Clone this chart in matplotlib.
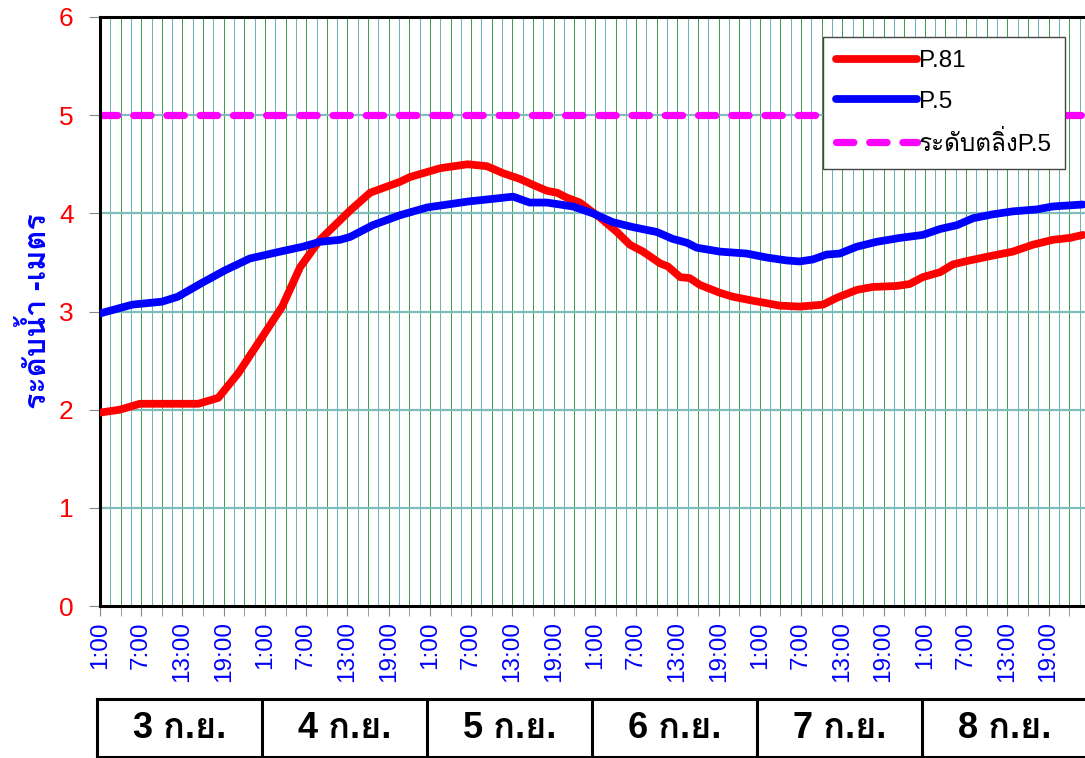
import numpy as np
import matplotlib
matplotlib.use('Agg')
import matplotlib.pyplot as plt
from matplotlib import font_manager
from fontTools.ttLib import TTFont

# ข้อมูล (ชั่วโมงนับจาก 1:00 วันที่ 3 ก.ย.)
p81_hours = [0, 2.9, 5.8, 14.3, 17.2, 20.1, 23.6, 26.5, 29.1, 32.0, 36.4, 39.3, 43.6, 45.1,
             49.5, 53.5, 56.3, 58.6, 61.1, 63.0, 65.0, 66.5, 67.9, 69.8, 71.7, 72.7, 75.2,
             77.1, 79.0, 81.5, 82.6, 84.4, 85.8, 87.3, 90.2, 92.1, 95.0, 98.9, 101.8, 105.2,
             107.2, 110.1, 112.4, 115.9, 117.8, 119.7, 122.2, 124.1, 126.5, 129.9, 132.8,
             135.7, 138.6, 141.1, 143.0]
p81_level = [1.97, 2.00, 2.06, 2.06, 2.12, 2.37, 2.74, 3.05, 3.45, 3.73, 4.03, 4.21, 4.32, 4.37,
             4.46, 4.50, 4.48, 4.41, 4.35, 4.29, 4.23, 4.21, 4.16, 4.11, 4.01, 3.96, 3.81,
             3.68, 3.61, 3.49, 3.46, 3.35, 3.34, 3.27, 3.19, 3.15, 3.11, 3.06, 3.05, 3.07,
             3.14, 3.22, 3.25, 3.26, 3.28, 3.35, 3.40, 3.48, 3.52, 3.57, 3.61,
             3.68, 3.73, 3.75, 3.78]

p5_hours = [0, 4.7, 9.0, 11.3, 14.8, 18.2, 21.8, 26.2, 29.5, 32.0, 34.9, 36.4, 39.7, 43.6,
            47.6, 53.5, 60.1, 62.5, 65.0, 68.8, 71.7, 74.6, 77.5, 81.0, 83.3, 85.4, 86.8,
            90.2, 94.1, 97.0, 99.9, 101.8, 103.7, 105.7, 107.6, 110.1, 113.0, 116.4, 119.7,
            122.2, 124.7, 127.0, 129.9, 132.8, 136.3, 138.6, 143.0]
p5_level = [2.98, 3.07, 3.10, 3.15, 3.29, 3.42, 3.54, 3.61, 3.66, 3.71, 3.73, 3.76, 3.88, 3.98,
            4.06, 4.12, 4.17, 4.11, 4.11, 4.07, 4.00, 3.91, 3.86, 3.81, 3.74, 3.70, 3.65,
            3.61, 3.59, 3.55, 3.52, 3.51, 3.53, 3.58, 3.59, 3.66, 3.71, 3.75, 3.78,
            3.84, 3.88, 3.95, 3.99, 4.02, 4.04, 4.07, 4.09]

bank_level = 5.0
time_labels = ['1:00', '7:00', '13:00', '19:00'] * 6
day_labels = ['3 ก.ย.', '4 ก.ย.', '5 ก.ย.', '6 ก.ย.', '7 ก.ย.', '8 ก.ย.']


# หาฟอนต์ที่มีอักษรไทย
def find_thai_font(bold=False):
    found = []
    for f in font_manager.fontManager.ttflist:
        try:
            tt = TTFont(f.fname, fontNumber=0, lazy=True)
            cmap = tt.getBestCmap()
        except Exception:
            continue
        if cmap and 0x0E01 in cmap:
            found.append(f)
    if not found:
        return None
    for f in found:
        if (f.weight in ('bold', 700)) == bold:
            return f.name
    return found[0].name


thai = find_thai_font()
fam = ['Liberation Sans'] + ([thai] if thai else []) + ['DejaVu Sans']
plt.rcParams['font.family'] = fam

fig = plt.figure(figsize=(10.85, 7.58), dpi=100)
W, H = 1085, 758
ax = fig.add_axes([100 / W, (H - 606) / H, 985 / W, 589 / H])

# เส้นกริดแนวตั้งทุก 1.5 ชม.
for i, g in enumerate(np.arange(1.5, 144, 1.5)):
    c = '#3a9d4a' if i % 2 == 1 else '#66b3b3'
    ax.axvline(g, color=c, lw=0.7, zorder=0)
for v in range(1, 6):
    ax.axhline(v, color='#80bcbc', lw=1.6, zorder=0)

ax.plot([0, 143.3], [bank_level, bank_level], color='#ff00ff', lw=5.2,
        linestyle=(0, (2.4, 2.2)), dash_capstyle='round', label='ระดับตลิ่งP.5', zorder=2)
ax.plot(p81_hours, p81_level, color='#ff0000', lw=5.6, solid_joinstyle='round',
        solid_capstyle='round', label='P.81', zorder=3)
ax.plot(p5_hours, p5_level, color='#0000ff', lw=5.6, solid_joinstyle='round',
        solid_capstyle='round', label='P.5', zorder=4)

ax.set_xlim(0, 143.3)
ax.set_ylim(0, 6)
ax.set_yticks(range(0, 7))
ax.set_yticklabels([str(v) for v in range(0, 7)], color='#ff0000', fontsize=19)
ax.set_xticks(np.arange(0, 144, 6))
ax.set_xticklabels(time_labels, rotation=90, color='#0000ff', fontsize=17.5)
ax.set_xticks(np.arange(3, 144, 6), minor=True)
ax.tick_params(axis='y', length=8, color='#888888', pad=11)
ax.tick_params(axis='x', which='both', length=7, color='#888888', pad=4)
ax.set_ylabel('ระดับน้ำ -เมตร', color='#0000ff', fontsize=22, fontweight='bold', labelpad=4)

for s in ['left', 'bottom', 'top']:
    ax.spines[s].set_linewidth(2.2)
    ax.spines[s].set_color('black')
ax.spines['right'].set_visible(False)

handles, labels = ax.get_legend_handles_labels()
order = [1, 2, 0]
leg = ax.legend([handles[i] for i in order], [labels[i] for i in order],
                loc='upper left', bbox_to_anchor=(823 / W, 1 - 37 / H),
                bbox_transform=fig.transFigure, fontsize=17.5, frameon=True, fancybox=False,
                framealpha=1, edgecolor='#444444', handlelength=3.3, handletextpad=0.1,
                labelspacing=0.75, borderpad=0.55, borderaxespad=0)
leg.get_frame().set_linewidth(1.0)

# กล่องวันที่ด้านล่าง
dax = fig.add_axes([97 / W, (H - 757) / H, 990 / W, 58 / H])
dax.set_xlim(0, 6)
dax.set_ylim(0, 1)
dax.set_xticks([])
dax.set_yticks([])
for s in dax.spines.values():
    s.set_linewidth(2.2)
    s.set_color('black')
for d in range(1, 6):
    dax.axvline(d, color='black', lw=2.2)
for d, lab in enumerate(day_labels):
    dax.text(d + 0.5, 0.5, lab, ha='center', va='center', fontsize=26, fontweight='bold')

fig.savefig('out.png', dpi=100)
